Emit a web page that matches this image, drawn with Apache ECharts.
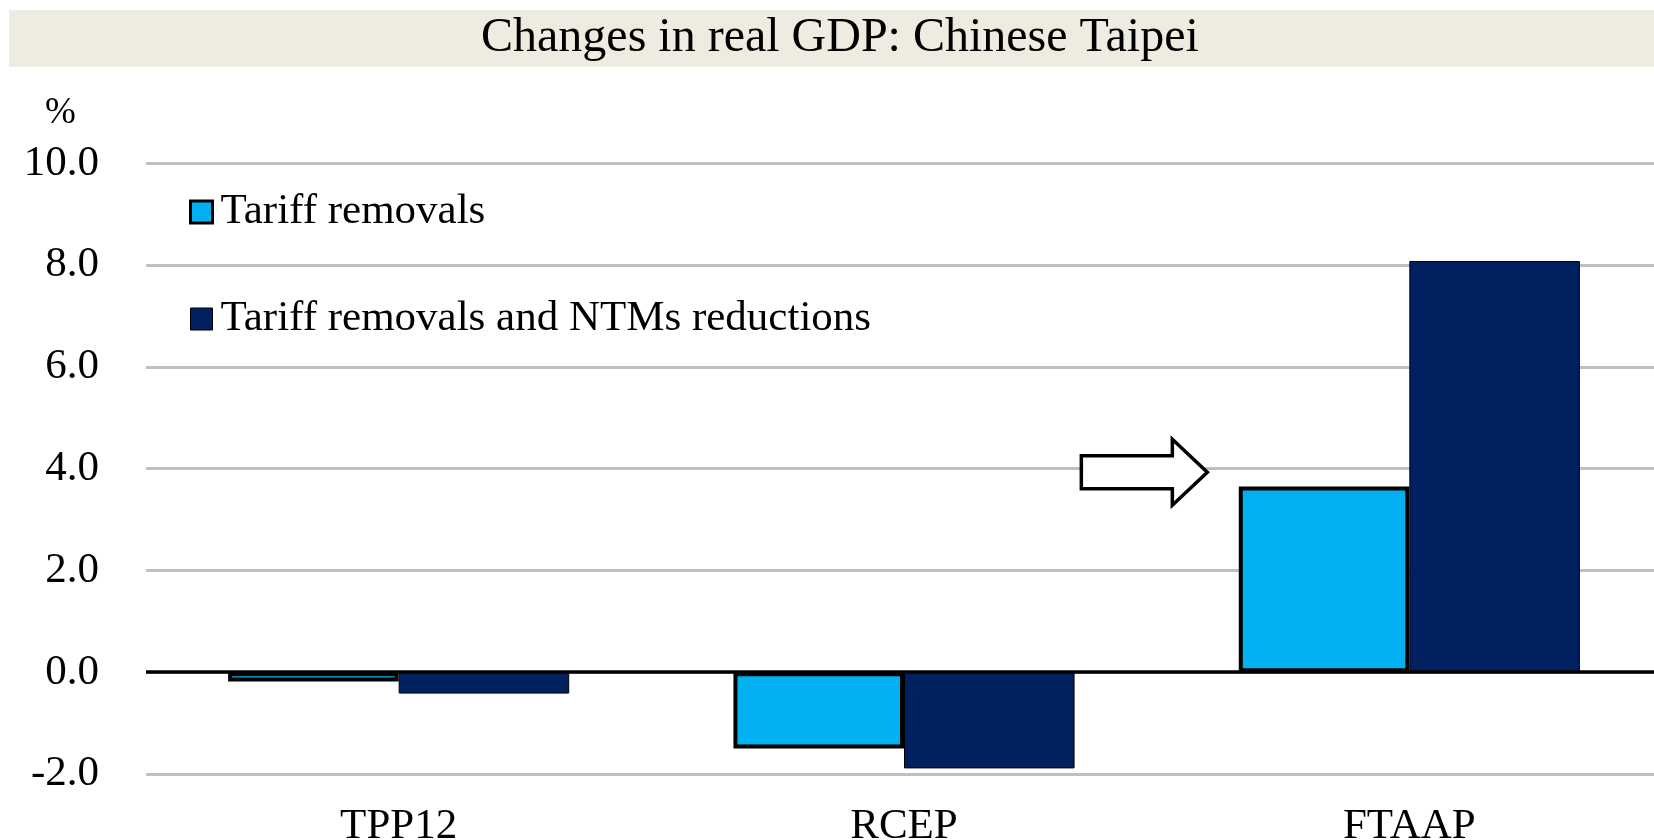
<!DOCTYPE html>
<html>
<head>
<meta charset="utf-8">
<script src="https://cdn.jsdelivr.net/npm/echarts@6/dist/echarts.min.js"></script>
<style>
html,body{margin:0;padding:0;background:#fff;}
#chart{width:1654px;height:840px;}
</style>
</head>
<body>
<div id="chart"></div>
<script>
const categories = ['TPP12', 'RCEP', 'FTAAP'];
const seriesNames = ['Tariff removals', 'Tariff removals and NTMs reductions'];
const tariffRemovals = [-0.18, -1.50, 3.65];
const tariffAndNTMs = [-0.42, -1.89, 8.08];
const yTicks = { min: -2, max: 10, interval: 2 };
const titleText = 'Changes in real GDP: Chinese Taipei';
const unitLabel = '%';
const arrowAnchor = { category: 'FTAAP', value: 3.93 };

const FONT = "'Liberation Serif', 'Times New Roman', serif";
const chart = echarts.init(document.getElementById('chart'), null, { renderer: 'canvas' });

const option = {
  backgroundColor: '#ffffff',
  animation: false,
  title: {
    text: titleText,
    left: 481,
    top: 14,
    padding: 0,
    textStyle: { fontFamily: FONT, fontSize: 48, fontWeight: 'normal', color: '#000', lineHeight: 48 }
  },
  legend: {
    orient: 'vertical',
    left: 189,
    top: 188,
    padding: 0,
    itemGap: 59,
    itemWidth: 22,
    itemHeight: 22,
    icon: 'rect',
    selectedMode: false,
    textStyle: { fontFamily: FONT, fontSize: 43, color: '#000', lineHeight: 43, padding: [5, 0, 0, 3] },
    data: [
      { name: seriesNames[0], itemStyle: { borderWidth: 3, borderColor: '#000' } },
      { name: seriesNames[1], itemStyle: { borderWidth: 1, borderColor: '#000' } }
    ]
  },
  grid: { left: 146, top: 163.3, width: 1516, height: 610.7, containLabel: false, outerBoundsMode: 'none' },
  xAxis: {
    type: 'category',
    data: categories,
    axisLine: { show: false, onZero: false },
    axisTick: { show: false },
    axisLabel: { fontFamily: FONT, fontSize: 43, color: '#000', margin: 31, lineHeight: 43 },
    splitLine: { show: false }
  },
  yAxis: {
    type: 'value',
    min: yTicks.min,
    max: yTicks.max,
    interval: yTicks.interval,
    axisLine: { show: false },
    axisTick: { show: false },
    axisLabel: {
      fontFamily: FONT, fontSize: 43, color: '#000', margin: 47,
      formatter: v => v.toFixed(1)
    },
    splitLine: { show: true, lineStyle: { color: '#BFBFBF', width: 3 } }
  },
  series: [
    {
      name: seriesNames[0],
      type: 'bar',
      data: tariffRemovals,
      barGap: '0%',
      barCategoryGap: '32.5%',
      itemStyle: { color: '#00B0F0', borderColor: '#000', borderWidth: 4 },
      z: 3,
      markLine: {
        silent: true,
        symbol: 'none',
        label: { show: false },
        lineStyle: { color: '#000', width: 3.5, type: 'solid' },
        data: [{ yAxis: 0 }],
        z: 5
      }
    },
    {
      name: seriesNames[1],
      type: 'bar',
      data: tariffAndNTMs,
      itemStyle: { color: '#002060', borderColor: '#000', borderWidth: 1 },
      z: 3
    }
  ]
};
chart.setOption(option);

// Decorations: title band, unit label, and block arrow anchored via the axes
const anchor = chart.convertToPixel({ gridIndex: 0 }, [arrowAnchor.category, arrowAnchor.value]);
const tipX = anchor[0] - 202, tipY = anchor[1];
const arrowPts = [
  [-126, -16.5], [-35, -16.5], [-35, -33], [0, 0], [-35, 33], [-35, 16.5], [-126, 16.5]
].map(p => [tipX + p[0], tipY + p[1]]);

chart.setOption({
  graphic: [
    { type: 'rect', z: -10, shape: { x: 9, y: 10, width: 1650, height: 56.7 }, style: { fill: '#EEEBE0' }, silent: true },
    { type: 'text', left: 45, top: 95, style: { text: unitLabel, font: '37px ' + FONT, fill: '#000' }, silent: true },
    { type: 'polygon', z: 10, shape: { points: arrowPts }, style: { fill: '#fff', stroke: '#000', lineWidth: 3.5 }, silent: true }
  ]
});
</script>
</body>
</html>
